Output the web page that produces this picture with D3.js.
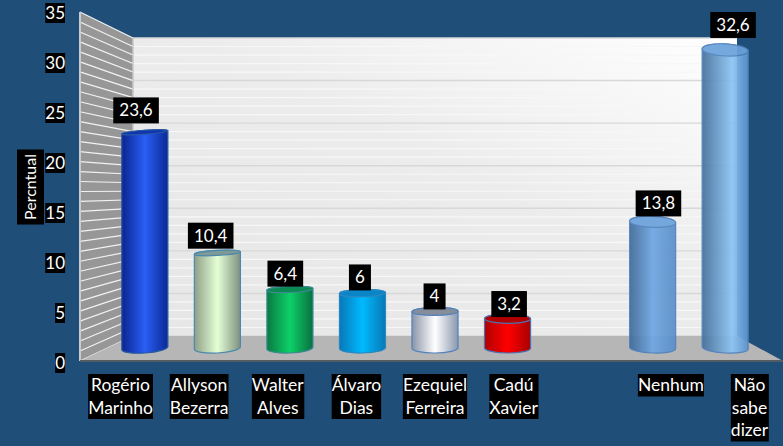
<!DOCTYPE html>
<html><head><meta charset="utf-8">
<script src="https://d3js.org/d3.v7.min.js"></script>
<style>html,body{margin:0;padding:0;background:#1f4e79}svg{display:block}text{font-family:Lato,Carlito,"Open Sans",sans-serif;fill:#fff}</style>
</head><body><svg id="c" width="783" height="446"></svg>
<script>
const categories = ["Rogério Marinho","Allyson Bezerra","Walter Alves","Álvaro Dias","Ezequiel Ferreira","Cadú Xavier","","Nenhum","Não sabe dizer"];
const values = [23.6,10.4,6.4,6,4,3.2,null,13.8,32.6];
const valueLabels = ["23,6","10,4","6,4","6","4","3,2","","13,8","32,6"];
const tickValues = [0,5,10,15,20,25,30,35];
const axisTitle = "Percntual";
const wrapped = [["Rogério","Marinho"],["Allyson","Bezerra"],["Walter","Alves"],["Álvaro","Dias"],["Ezequiel","Ferreira"],["Cadú","Xavier"],[],["Nenhum"],["Não","sabe","dizer"]];
const sideColors = [["#0a2590","#2a5ef5","#0a2a95"],["#8f9f88","#e4ffd6","#7f9080"],["#0a7a42","#0dd068","#0a7040"],["#0878b8","#00baff","#0878b5"],["#8a94a6","#ffffff","#8a97ad"],["#b00000","#ff0000","#a80000"],null,["#3f6a98","#6ea6e2","#5a8ec6"],["#45709c","#8cc4f4","#5a92cc"]];
const topColors = ["#0f34b0","#7f9a94","#0a8a52","#0a86c8","#858d9a","#b00000",null,"#6ba2da","#6ba2da"];
const strokeColors = ["#2a5aa0","#4a88ad","#3a8a90","#2a88c0","#4f81bd","#4f70b0",null,"#4f81bd","#4f81bd"];

const svg = d3.select("#c");
const defs = svg.append("defs");
const frontY = d3.scaleLinear().domain([0,35]).range([361,12]);
const backY = d3.scaleLinear().domain([0,35]).range([336,38]);
const tickY = d3.scaleLinear().domain([0,35]).range([363,13]);
const barY = d3.scaleLinear().domain([0,35]).range([348,28]);
const labelBottom = d3.scaleLinear().domain([0,35]).range([347.4,15.2]);
const wallL = 80, wallB = 133, wallR = 737;
const idx = d3.range(categories.length);
const barX = d3.scaleBand().domain(idx).range([108.75,761.25]).paddingInner(0.365).paddingOuter(0.18);
const catPoint = d3.scalePoint().domain(idx).range([120.5,749.5]);
const labPoint = d3.scalePoint().domain(idx).range([136,733]);

// back wall
const wg = defs.append("linearGradient").attr("id","wall").attr("x1",0).attr("y1",1).attr("x2",1).attr("y2",0);
wg.append("stop").attr("offset","0%").attr("stop-color","#e6e6e6");
wg.append("stop").attr("offset","55%").attr("stop-color","#ececec");
wg.append("stop").attr("offset","100%").attr("stop-color","#ffffff");
svg.append("rect").attr("x",wallB).attr("y",backY(35)).attr("width",wallR-wallB).attr("height",backY(0)-backY(35)).attr("fill","url(#wall)");
const units = d3.range(0,36);
svg.selectAll(".g").data(units).join("line").attr("x1",wallB).attr("x2",wallR)
  .attr("y1",backY).attr("y2",backY)
  .attr("stroke",d=>d%5===0?"#d8d8d8":"#f7f7f7").attr("stroke-width",d=>d%5===0?1.4:1.2);
// left wall
svg.append("polygon").attr("fill","#979797")
  .attr("points",[[wallL,frontY(35)],[wallB,backY(35)],[wallB,backY(0)],[wallL,frontY(0)]].join(" "));
svg.selectAll(".s").data(units).join("line").attr("x1",wallL).attr("x2",wallB)
  .attr("y1",frontY).attr("y2",backY).attr("stroke","#f2f2f2").attr("stroke-width",1.2);
svg.append("line").attr("x1",wallL).attr("x2",wallL).attr("y1",frontY(35)).attr("y2",frontY(0)).attr("stroke","#c5ccd4").attr("stroke-width",2);
svg.append("line").attr("x1",wallB).attr("x2",wallB).attr("y1",backY(35)).attr("y2",backY(0)).attr("stroke","#c8c8c8").attr("stroke-width",1.5);
// floor
svg.append("polygon").attr("fill","#b6b6b6")
  .attr("points",[[wallL,frontY(0)],[wallB,backY(0)],[wallR,backY(0)],[783,frontY(0)]].join(" "));
svg.append("line").attr("x1",wallL).attr("x2",783).attr("y1",frontY(0)).attr("y2",frontY(0)).attr("stroke","#555c62").attr("stroke-width",2);

// cylinders
idx.forEach(i=>{
  if(values[i]==null) return;
  const g = defs.append("linearGradient").attr("id","bar"+i);
  g.append("stop").attr("offset","0%").attr("stop-color",sideColors[i][0]);
  g.append("stop").attr("offset",i===8?"65%":"50%").attr("stop-color",sideColors[i][1]);
  g.append("stop").attr("offset","100%").attr("stop-color",sideColors[i][2]);
  const x0 = barX(i), w = barX.bandwidth(), rx = w/2, cx = x0+rx;
  const rot = (cx-480)*0.012, s = Math.sin(rot*Math.PI/180)*rx;
  const yb = barY(0), yt = barY(values[i]);
  const ryB = 5, ryT = 2+(cx-145)*0.007;
  const G = svg.append("g").attr("opacity",i>=7?0.93:1);
  G.append("path").attr("fill",`url(#bar${i})`).attr("stroke",strokeColors[i]).attr("stroke-width",1.2)
   .attr("d",`M${x0},${yt-s}L${x0},${yb-s}A${rx},${ryB} ${rot} 0 0 ${x0+w},${yb+s}L${x0+w},${yt+s}A${rx},${ryT} ${rot} 0 0 ${x0},${yt-s}Z`);
  G.append("ellipse").attr("cx",cx).attr("cy",yt).attr("rx",rx).attr("ry",ryT)
   .attr("transform",`rotate(${rot} ${cx} ${yt})`).attr("fill",topColors[i]).attr("stroke",strokeColors[i]).attr("stroke-width",1.2);
});

function boxed(sel){ // puts a black rect behind each text group, sized from the text itself
  sel.each(function(){
    const g = d3.select(this), b = g.select("text").node().getBBox(), p = +g.attr("data-pad")||0;
    g.insert("rect","text").attr("x",b.x-p).attr("y",b.y).attr("width",b.width+2*p).attr("height",b.height).attr("fill","#000");
  });
}
// value labels
const vl = svg.selectAll(".vl").data(idx.filter(i=>values[i]!=null)).join("g").attr("class","vl").attr("data-pad",6)
  .attr("transform",i=>`translate(${labPoint(i)},${labelBottom(values[i])-13})`);
vl.append("text").attr("text-anchor","middle").attr("dy","0.35em").attr("font-size",17).text(i=>valueLabels[i]);
vl.each(function(i){
  const g=d3.select(this), b=g.select("text").node().getBBox();
  g.insert("rect","text").attr("x",b.x-6).attr("y",-13).attr("width",b.width+12).attr("height",26).attr("fill","#000");
});
// y ticks
const yt = svg.selectAll(".yt").data(tickValues).join("g").attr("class","yt").attr("transform",d=>`translate(65,${tickY(d)})`);
yt.append("text").attr("text-anchor","end").attr("dy","0.35em").attr("font-size",17).text(d=>d);
yt.each(function(){
  const g=d3.select(this), b=g.select("text").node().getBBox();
  g.insert("rect","text").attr("x",b.x).attr("y",-10).attr("width",b.width).attr("height",20).attr("fill","#000");
});
// category labels
const cl = svg.selectAll(".cl").data(idx.filter(i=>wrapped[i].length)).join("g").attr("class","cl")
  .attr("transform",i=>`translate(${catPoint(i)},374)`);
cl.append("text").attr("text-anchor","middle").attr("font-size",17.5).each(function(i){
  d3.select(this).selectAll("tspan").data(wrapped[i]).join("tspan").attr("x",0).attr("y",(d,k)=>17+k*22.5).text(d=>d);
});
cl.each(function(i){
  const g=d3.select(this), b=g.select("text").node().getBBox();
  g.insert("rect","text").attr("x",b.x).attr("y",0).attr("width",b.width).attr("height",wrapped[i].length*22.5).attr("fill","#000");
});
// axis title
const at = svg.append("g").attr("transform","translate(30.5,187) rotate(-90)");
at.append("text").attr("text-anchor","middle").attr("dy","0.35em").attr("font-size",16).text(axisTitle);
at.insert("rect","text").attr("x",-37.5).attr("y",-13.5).attr("width",75).attr("height",27).attr("fill","#000");
</script></body></html>
